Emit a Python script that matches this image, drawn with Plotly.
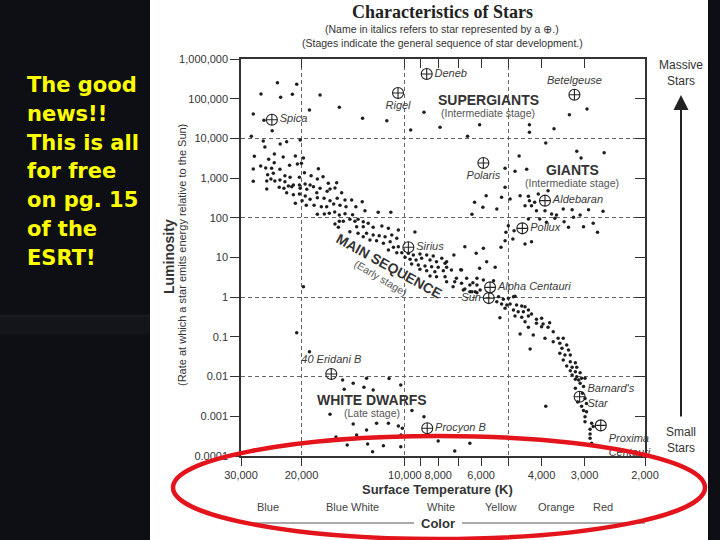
import plotly.graph_objects as go

# ---------------- data ----------------
# surface temperature (K) and luminosity (Sun = 1) of the unnamed stars (dots)
temp_K = [
    23500, 20650, 26240, 23000, 21260, 17660, 18960, 15520, 27630, 25720,
    24340, 28000, 25840, 25560, 23070, 22090, 20180, 27440, 23990, 24920,
    22610, 20840, 19740, 24010, 27630, 26290, 25420, 24430, 23110, 21660,
    20560, 20010, 17860, 25090, 24160, 22350, 21590, 20280, 19610, 18750,
    17980, 17310, 27630, 25240, 24550, 23910, 23110, 22350, 21120, 20280,
    19520, 18880, 16710, 15800, 25240, 23220, 22500, 21840, 21350, 20180,
    19300, 18460, 17660, 16520, 15980, 22090, 21120, 20280, 19500, 18050,
    16840, 15280, 19920, 18880, 17980, 17190, 16520, 15740, 14940, 14290,
    20840, 19370, 18380, 17510, 16890, 16120, 15450, 14840, 13890, 17980,
    17160, 16600, 16010, 15520, 14940, 14200, 15980, 15520, 15110, 14460,
    13980, 15620, 13310, 13070, 11960, 10990, 13690, 13220, 12790, 13820,
    13220, 12370, 11670, 11170, 10450, 9350, 14460, 13690, 12930, 12370,
    11880, 11420, 10920, 10560, 13220, 12640, 12090, 11550, 11040, 10800,
    10450, 11170, 10560, 10210, 9770, 9450, 9040, 8640, 8270, 7810,
    7200, 6690, 6200, 5910, 5780, 9990, 9660, 9280, 8940, 8450,
    8090, 7640, 9560, 9140, 8740, 8360, 8000, 7560, 9040, 8640,
    8180, 7730, 7320, 6840, 8450, 8090, 7640, 6610, 6170, 5910,
    7560, 7160, 6840, 6470, 6760, 6470, 6240, 6040, 6340, 6170,
    6380, 6170, 5340, 5170, 5000, 4830, 5400, 5230, 5050, 4940,
    4730, 4570, 4470, 5110, 4830, 4680, 4520, 4370, 4280, 4780,
    4570, 4370, 5290, 4140, 4000, 4470, 4140, 3960, 3790, 4370,
    4000, 3830, 3700, 4620, 4230, 3910, 3580, 3460, 3700, 3540,
    3380, 4320, 3490, 3340, 3540, 3420, 3300, 3460, 3300, 3190,
    3380, 3260, 3160, 3300, 3190, 3090, 3260, 3160, 3060, 3190,
    3120, 2990, 3090, 3020, 3190, 3040, 2990, 3140, 3060, 2960,
    3020, 2960, 2990, 2990, 2860, 2830, 2890, 2890, 2890, 2860,
    3890, 20650, 18960, 19740, 15180, 14140, 12930, 11120, 10280, 15020,
    13160, 12370, 16520, 9540, 8800, 14140, 12090, 11170, 10450, 10170,
    12930, 15870, 13820, 11810, 10260, 14720, 12840, 11550, 10280, 8000,
    6470, 7160, 12420, 3320, 2950, 3680, 4340, 4340, 6060, 6570,
    7900, 3890, 3160, 3070, 2630, 4650, 5110, 4780, 4420, 5110,
    5800, 6270, 5930, 6380, 5400, 5230, 4940, 4620, 4370, 4340,
    4470, 4280, 4090, 3830, 4190, 4140, 3910, 3740, 3620, 3460,
    3260, 3090, 2920, 2650, 4370, 4050, 3870, 3660, 3440, 3230,
    3340, 3020, 2830, 2750, 5000, 5080, 4810, 4850, 4470, 4280,
    5250, 5110, 7560, 6060, 5460, 6880, 7080, 5520, 7240, 6690,
    4780, 13280, 11290, 8800, 9620,
]
lum_Lsun = [
    253000, 231000, 131000, 108000, 129000, 124000, 51900, 60700, 41200, 28600,
    15600, 11300, 8590, 6070, 7230, 8260, 9120, 3540, 4050, 2970,
    3400, 3610, 3210, 2440, 1690, 2020, 1790, 1770, 1670, 2100,
    2260, 2360, 1730, 1220, 1320, 1150, 1050, 1050, 1370, 1150,
    948, 1080, 830, 845, 948, 845, 895, 811, 670, 670,
    710, 670, 740, 766, 531, 586, 553, 632, 607, 553,
    522, 607, 553, 531, 563, 429, 382, 397, 354, 429,
    465, 429, 270, 292, 321, 310, 270, 310, 281, 281,
    232, 207, 207, 190, 190, 222, 207, 190, 190, 122,
    124, 130, 140, 118, 127, 120, 69.8, 81.7, 81.7, 91.6,
    81.7, 57.7, 254, 151, 137, 137, 91.6, 79.8, 72.6, 59.7,
    59.7, 57.7, 62.1, 54.3, 49.3, 43.9, 44.7, 40.6, 40.6, 36.9,
    35.4, 33.4, 36.9, 30.4, 33.4, 27.6, 26.5, 22.8, 25.0, 18.1,
    18.7, 15.5, 13.2, 13.2, 12.8, 11.6, 12.2, 11.6, 10.9, 9.55,
    11.6, 18.7, 12.8, 17.1, 7.83, 10.1, 9.0, 8.65, 9.55, 8.65,
    7.83, 7.14, 6.85, 6.47, 6.11, 5.86, 5.66, 5.66, 5.04, 4.65,
    4.39, 4.65, 4.84, 4.84, 3.42, 3.28, 3.28, 2.99, 2.99, 2.71,
    2.45, 2.45, 2.24, 2.03, 1.52, 1.37, 1.37, 1.52, 2.32, 2.03,
    1.37, 1.30, 1.03, 0.885, 0.94, 1.03, 0.769, 0.673, 0.635, 0.673,
    0.635, 0.600, 0.575, 0.525, 0.475, 0.431, 0.431, 0.475, 0.378, 0.336,
    0.311, 0.336, 0.304, 0.277, 0.294, 0.241, 0.220, 0.211, 0.228, 0.174,
    0.181, 0.174, 0.135, 0.118, 0.112, 0.092, 0.092, 0.092, 0.0757, 0.0689,
    0.0625, 0.0495, 0.0515, 0.0468, 0.0386, 0.035, 0.035, 0.0262, 0.0237, 0.0224,
    0.0185, 0.0171, 0.0171, 0.0141, 0.0133, 0.0125, 0.011, 0.0099, 0.0091, 0.0086,
    0.0082, 0.0091, 0.0068, 0.0056, 0.0051, 0.0038, 0.0028, 0.0023, 0.0018, 0.0021,
    0.0014, 0.0013, 0.00098, 0.00073, 0.00067, 0.00055, 0.00047, 0.00036, 0.00028, 0.00021,
    0.0018, 0.127, 0.0424, 1.84, 0.0082, 0.0068, 0.0091, 0.0089, 0.0061, 0.0048,
    0.0054, 0.0046, 0.00112, 0.0014, 0.00098, 0.00064, 0.00067, 0.00067, 0.00057, 0.0005,
    0.00045, 0.0003, 0.00034, 0.00031, 0.00034, 0.00019, 0.0002, 0.00018, 0.00017, 0.00024,
    0.00021, 0.000134, 0.000128, 39500, 55000, 17500, 22100, 14300, 22100, 11300,
    19000, 7660, 4730, 3210, 4360, 3610, 1770, 1480, 1670, 586,
    360, 245, 184, 122, 166, 328, 297, 360, 348, 270,
    202, 202, 397, 481, 245, 151, 151, 124, 118, 166,
    160, 118, 160, 146, 93.3, 93.3, 76.9, 97, 79.8, 103,
    57.7, 59.7, 72.6, 43.1, 63.2, 43.1, 47.3, 29.2, 21.9, 25.0,
    18.1, 26.5, 7.83, 5.35, 5.66, 4.92, 2.99, 2.6, 1.84, 1.61,
    1.05, 32100, 27900, 45400, 16300,
]

# named stars (drawn with the circle-cross symbol)
star_names = ["Spica", "Rigel", "Deneb", "Betelgeuse", "Polaris", "Aldebaran",
              "Pollux", "Sirius", "Alpha Centauri", "Sun", "40 Eridani B",
              "Procyon B", "Barnard's<br>Star", "Proxima<br>Centauri"]
star_T = [24390, 10470, 8640, 3210, 5910, 3910, 4550, 9770, 5650, 5700,
          16380, 8610, 3100, 2690]
star_L = [29600, 139000, 419000, 126000, 2400, 270, 54.3, 18.1, 1.77, 0.95,
          0.0116, 0.0005, 0.0031, 0.00059]

# axis ticks
temp_ticks = [30000, 20000, 10000, 9000, 8000, 7000, 6000, 5000, 4000, 3000, 2000]
temp_tick_text = ["30,000", "20,000", "10,000", "", "8,000", "", "6,000", "",
                  "4,000", "3,000", "2,000"]
temp_grid = [20000, 10000, 5000]
lum_ticks = [1e6, 1e5, 1e4, 1e3, 1e2, 1e1, 1, 0.1, 0.01, 0.001, 0.0001]
lum_tick_text = ["1,000,000", "100,000", "10,000", "1,000", "100", "10", "1",
                 "0.1", "0.01", "0.001", "0.0001"]
lum_grid = [1e4, 1e2, 1, 0.01]

color_names = ["Blue", "Blue White", "White", "Yellow", "Orange", "Red"]

# ---------------- styling / layout helpers ----------------
label_pos = ["middle right", "bottom center", "middle right", "top center",
             "bottom center", "middle right", "middle right", "middle right",
             "middle right", "middle left", "top center", "middle right",
             "middle right", "bottom right"]
color_name_px = [268, 352, 441, 500, 556, 603]

W, H = 720, 540
PL, PR, PT, PB = 241, 75, 59, 84
PW, PH = W - PL - PR, H - PT - PB


def fx(x):
    return (x - PL) / PW


def fy(y):
    return (H - PB - y) / PH


SANS = "Liberation Sans, Arial, sans-serif"
INK = "#2b2b2b"
XR = [4.47712, 3.30103]
YR = [-4, 6]

fig = go.Figure()

fig.add_trace(go.Scatter(
    x=temp_K, y=lum_Lsun, mode="markers",
    marker=dict(size=3.5, color="#1e1e1e"),
    hoverinfo="skip", showlegend=False))

fig.add_trace(go.Scatter(
    x=star_T, y=star_L, mode="markers+text", text=star_names,
    textposition=label_pos,
    textfont=dict(family=SANS, size=11, color="#3a3a3a", style="italic"),
    marker=dict(symbol="circle-cross-open", size=11, color="#222",
                line=dict(width=1.1, color="#222")),
    hoverinfo="skip", showlegend=False, cliponaxis=False))

# invisible traces so the overlay axes are drawn
for xa, ya in (("x2", "y2"), ("x3", "y3")):
    fig.add_trace(go.Scatter(x=star_T[:1], y=star_L[:1], xaxis=xa, yaxis=ya,
                             mode="markers", marker=dict(opacity=0),
                             hoverinfo="skip", showlegend=False))

axis_common = dict(type="log", showgrid=False, zeroline=False)

fig.update_layout(
    width=W, height=H,
    margin=dict(l=PL, r=PR, t=PT, b=PB, pad=0),
    paper_bgcolor="#0d0f14", plot_bgcolor="white",
    font=dict(family=SANS, color=INK),
    xaxis=dict(**axis_common, range=XR, tickvals=temp_ticks, ticktext=temp_tick_text,
               ticks="outside", ticklen=8, tickcolor="#333", tickwidth=1.2,
               showline=True, linecolor="#333", linewidth=1.5,
               tickfont=dict(size=11, color="#333")),
    xaxis2=dict(**axis_common, range=XR, overlaying="x", side="top", anchor="y",
                tickvals=temp_ticks, ticks="inside", ticklen=9, tickcolor="#333",
                tickwidth=1.2, showticklabels=False, showline=True,
                linecolor="#333", linewidth=1.5),
    xaxis3=dict(type="log", range=XR, overlaying="x", tickvals=temp_grid,
                showgrid=True, gridcolor="#666", gridwidth=1, griddash="4px,3px",
                showticklabels=False, ticks="", showline=False, zeroline=False),
    yaxis=dict(**axis_common, range=YR, tickvals=lum_ticks, ticktext=lum_tick_text,
               ticks="outside", ticklen=9, tickcolor="#333", tickwidth=1.2,
               showline=True, linecolor="#333", linewidth=1.5,
               tickfont=dict(size=11, color="#333")),
    yaxis2=dict(**axis_common, range=YR, overlaying="y", side="right", anchor="x",
                tickvals=lum_ticks, ticks="inside", ticklen=10, tickcolor="#333",
                tickwidth=1.2, showticklabels=False, showline=True,
                linecolor="#333", linewidth=1.5),
    yaxis3=dict(type="log", range=YR, overlaying="y", tickvals=lum_grid,
                showgrid=True, gridcolor="#666", gridwidth=1, griddash="4px,3px",
                showticklabels=False, ticks="", showline=False, zeroline=False),
)

shapes = [
    # white page panel
    dict(type="rect", xref="paper", yref="paper", x0=fx(150), x1=fx(708),
         y0=fy(H), y1=fy(0), fillcolor="white", line=dict(width=0), layer="below"),
    # faint horizon band on the dark slide
    dict(type="rect", xref="paper", yref="paper", x0=fx(0), x1=fx(150),
         y0=fy(334), y1=fy(314), fillcolor="rgba(140,145,160,0.05)",
         line=dict(width=0), layer="below"),
    dict(type="line", xref="paper", yref="paper", x0=fx(0), x1=fx(150),
         y0=fy(316), y1=fy(316), line=dict(color="rgba(150,155,170,0.12)", width=1),
         layer="below"),
    # lines beside "Color"
    dict(type="line", xref="paper", yref="paper", x0=fx(242), x1=fx(414),
         y0=fy(523), y1=fy(523), line=dict(color="#555", width=1)),
    dict(type="line", xref="paper", yref="paper", x0=fx(462), x1=fx(645),
         y0=fy(523), y1=fy(523), line=dict(color="#555", width=1)),
    # red ellipse
    dict(type="circle", xref="paper", yref="paper", x0=fx(173), x1=fx(705),
         y0=fy(539), y1=fy(436), line=dict(color="#e3141b", width=4.5),
         layer="above"),
]

ann = []


def add(text, x, y, size=11, color=INK, angle=0, family=SANS, xanchor="center"):
    ann.append(dict(text=text, x=fx(x), y=fy(y), xref="paper", yref="paper",
                    showarrow=False, textangle=angle, xanchor=xanchor,
                    yanchor="middle", font=dict(size=size, color=color, family=family)))


add("<b>Characteristics of Stars</b>", 442, 12, size=18, color="#222",
    family="Liberation Serif, Times New Roman, serif")
add("(Name in italics refers to star represented by a ⊕.)", 442, 29, size=10.5, color="#333")
add("(Stages indicate the general sequence of star development.)", 442, 43, size=10.5, color="#333")

add("<b>Luminosity</b>", 169, 257, size=14, color="#333", angle=-90)
add("(Rate at which a star emits energy relative to the Sun)", 182, 255, size=11,
    color="#333", angle=-90)

add("<b>Surface Temperature (K)</b>", 437, 489, size=13, color="#333")
for name, xpix in zip(color_names, color_name_px):
    add(name, xpix, 507, size=11, color="#444")
add("<b>Color</b>", 438, 523, size=13, color="#333")

add("Massive<br>Stars", 681, 73, size=12, color="#333")
add("Small<br>Stars", 681, 440, size=12, color="#333")
ann.append(dict(text="", x=fx(681), y=fy(95), xref="paper", yref="paper",
                showarrow=True, ax=0, ay=323, arrowhead=2, arrowsize=1.5,
                arrowwidth=2, arrowcolor="#222"))

add("<b>SUPERGIANTS</b>", 488, 100, size=14, color="#333")
add("(Intermediate stage)", 488, 113, size=10.5, color="#555")
add("<b>GIANTS</b>", 572, 170, size=14, color="#333")
add("(Intermediate stage)", 572, 183, size=10.5, color="#555")
add("<b>MAIN SEQUENCE</b>", 389, 266, size=14, color="#333", angle=29)
add("(Early stage)", 381, 278, size=10.5, color="#555", angle=31)
add("<b>WHITE DWARFS</b>", 372, 400, size=14, color="#333")
add("(Late stage)", 372, 413, size=10.5, color="#555")

slide_lines = ["The good", "news!!", "This is all", "for free", "on pg. 15",
               "of the", "ESRT!"]
for i, line in enumerate(slide_lines):
    add("<b>" + line + "</b>", 25, 85 + 28.8 * i, size=21, color="#ffff00",
        family="DejaVu Sans, Verdana, sans-serif", xanchor="left")

fig.update_layout(shapes=shapes, annotations=ann)

fig.write_html(
    "out.html",
    config={"displayModeBar": False},
    post_script="document.body.style.margin='0px';document.body.style.padding='0px';"
                "document.body.style.overflow='hidden';"
                "document.body.style.background='#0d0f14';",
)
